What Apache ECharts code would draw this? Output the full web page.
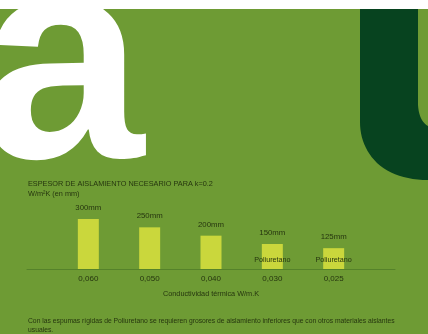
<!DOCTYPE html>
<html>
<head>
<meta charset="utf-8">
<script src="https://cdn.jsdelivr.net/npm/echarts@6/dist/echarts.min.js"></script>
<style>html,body{margin:0;padding:0;}#c{width:428px;height:334px;}</style>
</head>
<body>
<div id="c"></div>
<script>
var conductividad = ['0,060', '0,050', '0,040', '0,030', '0,025'];
var espesor = [300, 250, 200, 150, 125];
var material = ['', '', '', 'Poliuretano', 'Poliuretano'];
var titulo = 'ESPESOR DE AISLAMIENTO NECESARIO PARA k=0.2\nW/m²K (en mm)';
var ejeX = 'Conductividad térmica W/m.K';
var nota = 'Con las espumas rígidas de Poliuretano se requieren grosores de aislamiento inferiores que con otros materiales aislantes\nusuales.';

var textColor = '#26360f';
var font = '"Liberation Sans", Arial, sans-serif';

// decorative "u" outline (quadratic curves sampled into a polygon)
function quad(p0, p1, p2, n) {
  var out = [];
  for (var i = 1; i <= n; i++) {
    var t = i / n, a = (1 - t) * (1 - t), b = 2 * (1 - t) * t, c = t * t;
    out.push([a * p0[0] + b * p1[0] + c * p2[0], a * p0[1] + b * p1[1] + c * p2[1]]);
  }
  return out;
}
var uPts = [[360, 0], [418, 0], [418, 105]];
uPts = uPts.concat(quad([418, 105], [419, 121], [428, 126], 10));
uPts.push([428, 180]);
uPts = uPts.concat(quad([428, 180], [396, 180], [377, 163], 12));
uPts = uPts.concat(quad([377, 163], [360, 146], [360, 122], 12));

var chart = echarts.init(document.getElementById('c'), null, {renderer: 'canvas'});
var barData = espesor.map(function (v, i) { return [i + 1, v]; });

chart.setOption({
  backgroundColor: '#6e9b34',
  animation: false,
  title: {
    text: titulo,
    left: 23, top: 174,
    textStyle: {fontSize: 7.3, fontWeight: 'normal', color: textColor, fontFamily: font, lineHeight: 10}
  },
  grid: {left: 27, right: 33, top: 209, bottom: 65},
  xAxis: {
    type: 'value', min: 0, max: 6, interval: 1,
    name: ejeX, nameLocation: 'middle', nameGap: 21,
    nameTextStyle: {fontSize: 7.3, color: textColor, fontFamily: font},
    axisLine: {show: true, lineStyle: {color: '#55822a', width: 1}},
    axisTick: {show: false},
    splitLine: {show: false},
    axisLabel: {
      fontSize: 8, color: textColor, fontFamily: font, margin: 6,
      formatter: function (v) { return conductividad[v - 1] || ''; }
    }
  },
  yAxis: {type: 'value', min: 0, max: 360, show: false},
  series: [
    {
      type: 'bar', data: barData, barWidth: 21,
      itemStyle: {color: '#cad73c'},
      label: {show: true, position: 'top', distance: 7, fontSize: 7.8, color: textColor, fontFamily: font,
        formatter: function (p) { return p.value[1] + 'mm'; }}
    },
    {
      type: 'bar', data: barData, barWidth: 21, barGap: '-100%',
      itemStyle: {color: 'rgba(0,0,0,0)'},
      label: {show: true, position: 'insideBottom', distance: 5, fontSize: 7.2, color: textColor, fontFamily: font,
        formatter: function (p) { return material[p.dataIndex]; }}
    }
  ],
  graphic: [
    {type: 'text', x: -20, y: 76, z: 0,
      style: {text: 'a', fill: '#ffffff', font: 'bold 295px "Liberation Sans"', verticalAlign: 'middle'}},
    {type: 'polygon', z: 0, shape: {points: uPts}, style: {fill: '#07431f'}},
    {type: 'rect', z: 1, shape: {x: 0, y: 0, width: 428, height: 9}, style: {fill: '#ffffff'}},
    {type: 'text', left: 28, top: 316, z: 1,
      style: {text: nota, fill: textColor, font: '6.75px ' + font, lineHeight: 9.5}}
  ]
});
</script>
</body>
</html>
